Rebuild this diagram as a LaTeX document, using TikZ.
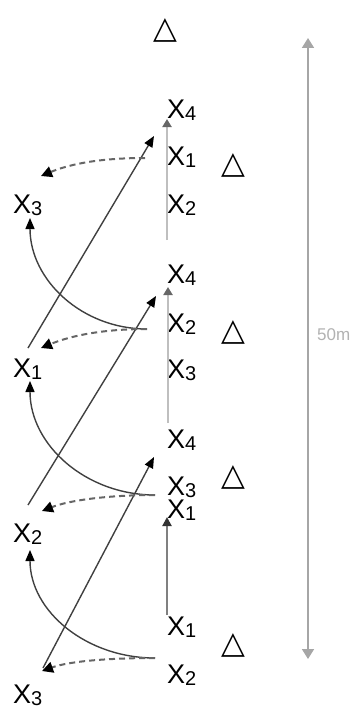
\documentclass[tikz,border=0pt]{standalone}
\usepackage{fontspec}
\setmainfont{Liberation Sans}
\newfontfamily\symfont{DejaVu Sans}
\usetikzlibrary{arrows.meta}
\newcommand{\Xl}[1]{X\raisebox{-2.5pt}{\fontsize{20}{20}\selectfont #1}}
\begin{document}
\begin{tikzpicture}[x=1pt,y=-1pt,
  lab/.style={inner sep=0pt,anchor=base west,font=\fontsize{27}{27}\selectfont},
  tri/.style={inner sep=0pt,anchor=base,font=\fontsize{31}{31}\selectfont\symfont},
  dark/.style={draw=black!75,line width=1.4pt,-{Triangle[length=11pt,width=9pt,color=black]}},
  dashpass/.style={draw=black!60,line width=2pt,dash pattern=on 6pt off 4pt,-{Triangle[length=11pt,width=11pt,color=black]}},
  lane/.style={draw=black!25,line width=2.2pt,-{Triangle[length=8pt,width=9pt,color=black!60]}},
  lanedark/.style={draw=black!50,line width=2pt,-{Triangle[length=9pt,width=9pt,color=black!80]}},
  scalebar/.style={draw=black!35,line width=1.8pt,{Triangle[length=10pt,width=12pt]}-{Triangle[length=10pt,width=12pt]}}]
\useasboundingbox (0,0) rectangle (358,709);
% right column labels
\node[lab] (r4a) at (167,118) {\Xl{4}};
\node[lab] (r1a) at (167,165) {\Xl{1}};
\node[lab] (r2a) at (167,213) {\Xl{2}};
\node[lab] (r4b) at (167,283) {\Xl{4}};
\node[lab] (r2b) at (167,332) {\Xl{2}};
\node[lab] (r3b) at (167,378) {\Xl{3}};
\node[lab] (r4c) at (167,448) {\Xl{4}};
\node[lab] (r3c) at (167,495) {\Xl{3}};
\node[lab] (r1c) at (167,518) {\Xl{1}};
\node[lab] (r1d) at (167,635) {\Xl{1}};
\node[lab] (r2d) at (167,683) {\Xl{2}};
% left column labels
\node[lab] (l3a) at (13,213) {\Xl{3}};
\node[lab] (l1b) at (13,377) {\Xl{1}};
\node[lab] (l2c) at (13,542) {\Xl{2}};
\node[lab] (l3d) at (13,703) {\Xl{3}};
% triangles
\node[tri] (t0) at (165,38) {△};
\node[tri] (t1) at (233,173) {△};
\node[tri] (t2) at (233,340) {△};
\node[tri] (t3) at (233,485) {△};
\node[tri] (t4) at (233,653) {△};
% lane arrows
\coordinate (g1s) at (167,240); \coordinate (g1e) at (167,119);
\coordinate (g2s) at (168,423); \coordinate (g2e) at (168,287);
\coordinate (g3s) at (167,615); \coordinate (g3e) at (167,517);
\draw[lane] (g1s) -- (g1e);
\draw[lane] (g2s) -- (g2e);
\draw[lanedark] (g3s) -- (g3e);
% diagonals
\coordinate (d1s) at (28,348); \coordinate (d1e) at (154,136);
\coordinate (d2s) at (28,505); \coordinate (d2e) at (156,296);
\coordinate (d3s) at (43,668); \coordinate (d3e) at (154,457);
\draw[dark] (d1s) -- (d1e);
\draw[dark] (d2s) -- (d2e);
\draw[dark] (d3s) -- (d3e);
% curves
\coordinate (c1s) at (147,329); \coordinate (c1e) at (30,218);
\coordinate (c2s) at (155,495); \coordinate (c2e) at (30,381);
\coordinate (c3s) at (155,658); \coordinate (c3e) at (30,550);
\draw[dark] (c1s) .. controls (82,329) and (30,280) .. (c1e);
\draw[dark] (c2s) .. controls (86,495) and (30,445) .. (c2e);
\draw[dark] (c3s) .. controls (86,658) and (30,611) .. (c3e);
% dashed passes
\coordinate (e1s) at (145,158); \coordinate (e1e) at (41,176);
\coordinate (e2s) at (147,329); \coordinate (e2e) at (41,348);
\coordinate (e3s) at (155,495); \coordinate (e3e) at (42,511);
\coordinate (e4s) at (155,658); \coordinate (e4e) at (42,671);
\draw[dashpass] (e1s) .. controls (100,158) and (70,164) .. (e1e);
\draw[dashpass] (e2s) .. controls (102,329) and (70,336) .. (e2e);
\draw[dashpass] (e3s) .. controls (110,495) and (70,500) .. (e3e);
\draw[dashpass] (e4s) .. controls (110,658) and (70,661) .. (e4e);
% scale bar
\coordinate (st) at (308,38); \coordinate (sb) at (308,659);
\draw[scalebar] (st) -- (sb);
\node[inner sep=0pt,anchor=base west,text=black!30,font=\fontsize{17}{17}\selectfont] (len) at (317,340) {50m};
\end{tikzpicture}
\end{document}
